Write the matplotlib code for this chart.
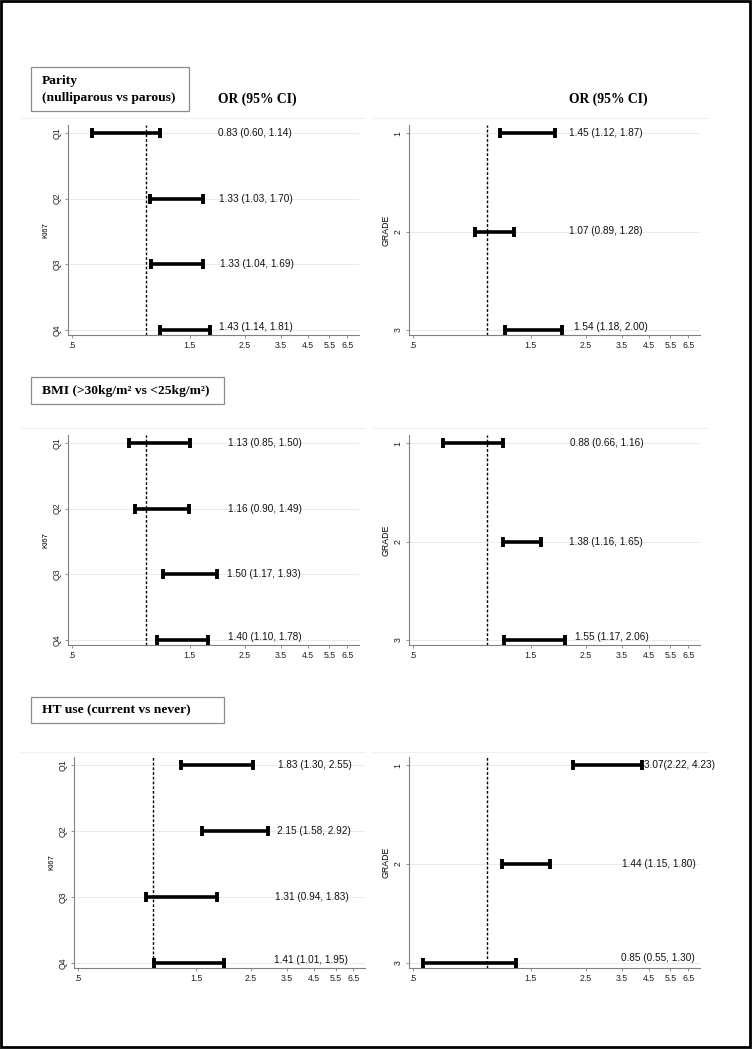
import numpy as np
import matplotlib
matplotlib.use("Agg")
import matplotlib.pyplot as plt
from matplotlib.patches import Rectangle
from matplotlib.lines import Line2D

# ---- data (odds ratios with 95% CI) ----
ki67_rows = ["Q1", "Q2", "Q3", "Q4"]
grade_rows = ["1", "2", "3"]

parity_ki67_or = [0.83, 1.33, 1.33, 1.43]
parity_ki67_lo = [0.60, 1.03, 1.04, 1.14]
parity_ki67_hi = [1.14, 1.70, 1.69, 1.81]

parity_grade_or = [1.45, 1.07, 1.54]
parity_grade_lo = [1.12, 0.89, 1.18]
parity_grade_hi = [1.87, 1.28, 2.00]

bmi_ki67_or = [1.13, 1.16, 1.50, 1.40]
bmi_ki67_lo = [0.85, 0.90, 1.17, 1.10]
bmi_ki67_hi = [1.50, 1.49, 1.93, 1.78]

bmi_grade_or = [0.88, 1.38, 1.55]
bmi_grade_lo = [0.66, 1.16, 1.17]
bmi_grade_hi = [1.16, 1.65, 2.06]

ht_ki67_or = [1.83, 2.15, 1.31, 1.41]
ht_ki67_lo = [1.30, 1.58, 0.94, 1.01]
ht_ki67_hi = [2.55, 2.92, 1.83, 1.95]

ht_grade_or = [3.07, 1.44, 0.85]
ht_grade_lo = [2.22, 1.15, 0.55]
ht_grade_hi = [4.23, 1.80, 1.30]

xticks = [0.5, 1.5, 2.5, 3.5, 4.5, 5.5, 6.5]
xticklabels = [".5", "1.5", "2.5", "3.5", "4.5", "5.5", "6.5"]

headers = ["Parity\n(nulliparous vs parous)",
           "BMI (>30kg/m\u00b2 vs <25kg/m\u00b2)",
           "HT use (current vs never)"]

SANS = "Liberation Sans"
SERIF = "Liberation Serif"

W, H = 752, 1050
fig = plt.figure(figsize=(W / 100, H / 100), dpi=100)
fig.patch.set_facecolor("white")


def fx(px):
    return px / W


def fy(py):
    return 1 - py / H


def fmt(o, l, h):
    return [f"{a:.2f} ({b:.2f}, {c:.2f})" for a, b, c in zip(o, l, h)]


def panel(left, right, ax_top, ax_bot, row_top, row_bot, rows, ylabel,
          o, lo, hi, label_px, labels, label_dy, ylab_fs):
    ax = fig.add_axes([fx(left), fy(ax_bot), (right - left) / W, (ax_bot - ax_top) / H])
    n = len(rows)
    s = (row_bot - row_top) / (n - 1)
    y = np.arange(1, n + 1)
    ax.set_xscale("log")
    ax.set_xlim(0.48, 7.25)
    ax.set_ylim(n + (ax_bot - row_bot) / s, 1 - (row_top - ax_top) / s)

    # faint gridlines
    for yy in y:
        ax.axhline(yy, color="#e6eded", lw=0.8, zorder=0)

    # reference line at OR = 1
    ax.axvline(1, color="black", lw=1.0, ls=(0, (2, 1.4)), zorder=1)

    o = np.array(o); lo = np.array(lo); hi = np.array(hi)
    ax.errorbar(o, y, xerr=[o - lo, hi - o], fmt="none", ecolor="black",
                elinewidth=2.6, capsize=3.5, capthick=2.8, zorder=3)

    for yy, lx, txt, dy in zip(y, label_px, labels, label_dy):
        xa = (lx - left) / (right - left)
        ax.annotate(txt, xy=(xa, yy), xycoords=("axes fraction", "data"),
                    xytext=(0, -dy * 0.72), textcoords="offset points",
                    ha="left", va="center", fontsize=7.2, family=SANS,
                    color="#111111")

    ax.set_xticks(xticks)
    ax.set_xticklabels(xticklabels, fontsize=6.3, family=SANS)
    ax.xaxis.set_minor_locator(matplotlib.ticker.NullLocator())
    ax.set_yticks(y)
    ax.set_yticklabels(rows, fontsize=6.3, family=SANS, rotation=90, va="center")
    ax.set_ylabel(ylabel, fontsize=ylab_fs, family=SANS, labelpad=2)

    for sp in ["top", "right"]:
        ax.spines[sp].set_visible(False)
    for sp in ["left", "bottom"]:
        ax.spines[sp].set_color("#808080")
        ax.spines[sp].set_linewidth(0.8)
    ax.tick_params(axis="both", length=2.5, width=0.6, color="#808080",
                   pad=2, labelcolor="#222222")
    ax.set_facecolor("none")
    return ax


# section layout: (ax_top, ax_bot, row_top, row_bot)
sections = [(125, 335, 133, 330), (435, 645, 443, 640), (757, 968, 765, 963)]
left_x = [(67.6, 358.9), (67.6, 358.9), (73.9, 365.2)]
right_x = (408.6, 700.0)

ki67_data = [(parity_ki67_or, parity_ki67_lo, parity_ki67_hi),
             (bmi_ki67_or, bmi_ki67_lo, bmi_ki67_hi),
             (ht_ki67_or, ht_ki67_lo, ht_ki67_hi)]
grade_data = [(parity_grade_or, parity_grade_lo, parity_grade_hi),
              (bmi_grade_or, bmi_grade_lo, bmi_grade_hi),
              (ht_grade_or, ht_grade_lo, ht_grade_hi)]

ki67_label_px = [[218, 219, 220, 219], [228, 228, 227, 228], [278, 277, 275, 274]]
grade_label_px = [[569, 569, 574], [570, 569, 575], [644, 622, 621]]
ki67_dy = [[0, 0, 0, -3], [0, 0, 0, -3], [0, 0, 0, -3]]
grade_dy = [[0, 0, -3], [0, 0, -3], [0, 0, -5]]

for i, (at, ab, rt, rb) in enumerate(sections):
    o, l, h = ki67_data[i]
    lx0, lx1 = left_x[i]
    panel(lx0, lx1, at, ab, rt, rb, ki67_rows, "KI67", o, l, h,
          ki67_label_px[i], fmt(o, l, h), ki67_dy[i], 5.6)

    o, l, h = grade_data[i]
    labels = fmt(o, l, h)
    if i == 2:
        labels[0] = labels[0].replace(" (", "(")
    panel(right_x[0], right_x[1], at, ab, rt, rb, grade_rows, "GRADE", o, l, h,
          grade_label_px[i], labels, grade_dy[i], 6.3)

    # faint line at top of each plot region
    top_line = [118, 428, 752][i]
    for xa, xb in [(20, 365), (372, 708)]:
        fig.add_artist(Line2D([fx(xa), fx(xb)], [fy(top_line), fy(top_line)],
                              color="#f0f0f0", lw=0.8))

# header boxes
boxes = [(30.7, 67, 189, 111), (30.7, 377.3, 224, 404.3), (30.7, 697, 224, 723.3)]
for (x0, y0, x1, y1), txt in zip(boxes, headers):
    fig.add_artist(Rectangle((fx(x0), fy(y1)), (x1 - x0) / W, (y1 - y0) / H,
                             transform=fig.transFigure, fill=False,
                             edgecolor="#8c8c8c", lw=0.9))
    fig.text(fx(41.7), fy((y0 + y1) / 2 + 0.5), txt, ha="left", va="center",
             fontsize=9.7, family=SERIF, fontweight="bold", linespacing=1.45)

# column headings
fig.text(fx(218), fy(99), "OR (95% CI)", ha="left", va="center",
         fontsize=9.8, family=SERIF, fontweight="bold")
fig.text(fx(569), fy(99), "OR (95% CI)", ha="left", va="center",
         fontsize=9.8, family=SERIF, fontweight="bold")

# outer frame
fig.add_artist(Rectangle((fx(1), fy(1047)), 749 / W, 1046 / H,
                         transform=fig.transFigure, fill=False,
                         edgecolor="black", lw=2.0))

fig.savefig("out.png", dpi=100, facecolor="white")
